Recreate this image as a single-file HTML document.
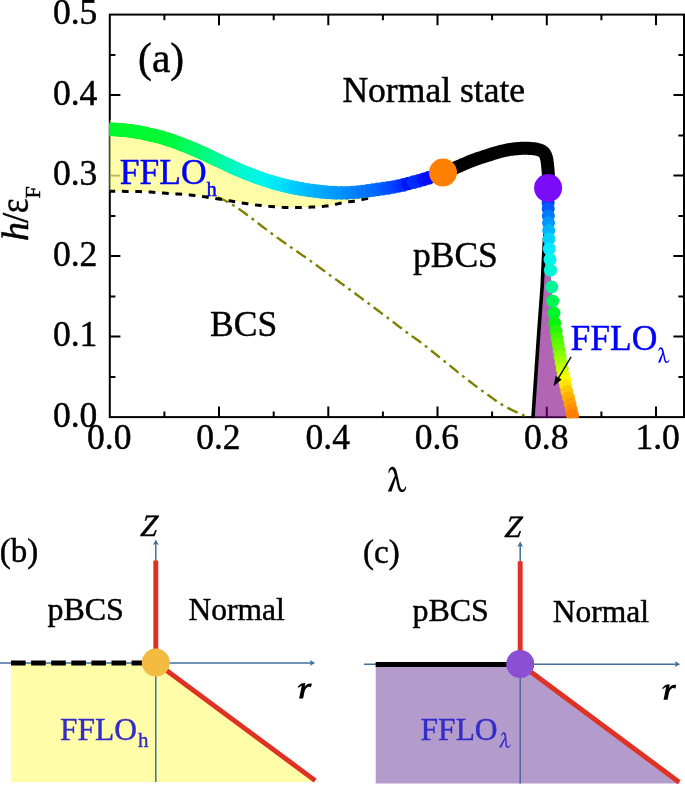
<!DOCTYPE html>
<html><head><meta charset="utf-8"><title>Phase diagram</title>
<style>html,body{margin:0;padding:0;background:#fff;}body{width:685px;height:786px;overflow:hidden;font-family:"Liberation Serif",serif;}</style></head>
<body>
<svg width="685" height="786" viewBox="0 0 685 786" style="display:block;will-change:transform">
<rect width="685" height="786" fill="#fff"/>
<defs><clipPath id="pc"><rect x="109.7" y="13.6" width="575.3" height="404.6"/></clipPath>
</defs>
<g stroke="#000" stroke-width="2" fill="none">
<rect x="109.8" y="14.6" width="574.2" height="402.5"/>
<path d="M164.4,417.1 v-5.6 M164.4,14.6 v5.6"/>
<path d="M219.0,417.1 v-10.6 M219.0,14.6 v10.6"/>
<path d="M273.7,417.1 v-5.6 M273.7,14.6 v5.6"/>
<path d="M328.3,417.1 v-10.6 M328.3,14.6 v10.6"/>
<path d="M382.9,417.1 v-5.6 M382.9,14.6 v5.6"/>
<path d="M437.5,417.1 v-10.6 M437.5,14.6 v10.6"/>
<path d="M492.1,417.1 v-5.6 M492.1,14.6 v5.6"/>
<path d="M546.8,417.1 v-10.6 M546.8,14.6 v10.6"/>
<path d="M601.4,417.1 v-5.6 M601.4,14.6 v5.6"/>
<path d="M656.0,417.1 v-10.6 M656.0,14.6 v10.6"/>
<path d="M109.8,376.9 h5.6 M684.0,376.9 h-5.6"/>
<path d="M109.8,336.6 h10.6 M684.0,336.6 h-10.6"/>
<path d="M109.8,296.4 h5.6 M684.0,296.4 h-5.6"/>
<path d="M109.8,256.1 h10.6 M684.0,256.1 h-10.6"/>
<path d="M109.8,215.9 h5.6 M684.0,215.9 h-5.6"/>
<path d="M109.8,175.6 h10.6 M684.0,175.6 h-10.6"/>
<path d="M109.8,135.4 h5.6 M684.0,135.4 h-5.6"/>
<path d="M109.8,95.1 h10.6 M684.0,95.1 h-10.6"/>
<path d="M109.8,54.9 h5.6 M684.0,54.9 h-5.6"/>
</g>
<g clip-path="url(#pc)">
<path d="M109.2,129.2 L108.2,129.2 L109.3,129.2 L110.3,129.3 L111.4,129.4 L112.5,129.4 L113.7,129.5 L114.9,129.5 L116.1,129.6 L117.4,129.7 L118.6,129.8 L119.9,129.9 L121.2,130.0 L122.5,130.1 L123.8,130.2 L125.0,130.3 L126.3,130.4 L127.6,130.6 L128.9,130.8 L130.2,130.9 L131.6,131.1 L132.9,131.3 L134.2,131.5 L135.5,131.7 L136.7,131.9 L137.9,132.1 L139.0,132.2 L140.0,132.4 L140.9,132.6 L141.6,132.7 L142.3,132.8 L142.8,132.9 L143.3,133.0 L143.8,133.1 L144.3,133.3 L144.8,133.4 L145.4,133.6 L146.2,133.7 L147.0,134.0 L148.0,134.2 L149.1,134.5 L150.4,134.7 L151.7,135.0 L153.0,135.3 L154.5,135.6 L156.0,136.0 L157.6,136.4 L159.2,136.8 L160.9,137.2 L162.7,137.7 L164.5,138.2 L166.3,138.8 L168.2,139.4 L170.2,140.1 L172.3,140.9 L174.5,141.6 L176.7,142.4 L179.0,143.3 L181.2,144.2 L183.5,145.0 L185.8,145.9 L188.1,146.9 L190.4,147.8 L192.6,148.7 L194.8,149.6 L197.0,150.6 L199.3,151.6 L201.5,152.6 L203.8,153.7 L206.0,154.7 L208.2,155.8 L210.4,156.8 L212.6,157.9 L214.7,158.9 L216.8,159.9 L218.9,160.8 L220.9,161.7 L222.8,162.6 L224.7,163.5 L226.5,164.4 L228.3,165.2 L230.1,166.0 L231.9,166.9 L233.7,167.7 L235.5,168.5 L237.4,169.3 L239.3,170.2 L241.3,171.0 L243.4,171.8 L245.5,172.7 L247.6,173.5 L249.8,174.4 L252.0,175.3 L254.2,176.1 L256.5,176.9 L258.7,177.8 L260.9,178.6 L263.2,179.3 L265.4,180.1 L267.6,180.8 L269.8,181.5 L272.0,182.1 L274.2,182.8 L276.3,183.4 L278.5,184.0 L280.7,184.6 L282.9,185.1 L285.1,185.7 L287.2,186.2 L289.4,186.7 L291.6,187.1 L293.8,187.6 L296.0,188.0 L298.2,188.5 L300.5,188.9 L302.7,189.2 L304.9,189.6 L307.2,189.9 L309.4,190.3 L311.6,190.6 L313.8,190.9 L315.9,191.1 L318.0,191.4 L320.1,191.6 L322.1,191.8 L324.1,192.0 L326.1,192.2 L328.0,192.3 L330.0,192.5 L331.9,192.6 L333.7,192.7 L335.5,192.7 L337.3,192.8 L339.1,192.9 L340.8,192.9 L342.5,192.9 L344.1,192.9 L345.7,192.9 L347.2,192.8 L348.7,192.8 L350.1,192.7 L351.6,192.6 L352.9,192.5 L354.3,192.4 L355.7,192.2 L357.1,192.1 L358.6,191.9 L360.0,191.8 L361.5,191.6 L362.9,191.5 L364.4,191.3 L365.9,191.1 L367.3,190.9 L368.8,190.7 L370.3,190.5 L371.7,190.3 L371.3,197.8 L369.8,198.1 L368.3,198.3 L367.0,198.6 L365.7,198.9 L364.5,199.1 L363.3,199.4 L362.1,199.6 L360.9,199.9 L359.6,200.1 L358.4,200.3 L357.2,200.6 L356.0,200.8 L354.8,201.0 L353.6,201.2 L352.4,201.4 L351.2,201.5 L349.9,201.7 L348.7,201.8 L347.5,202.0 L346.3,202.1 L345.0,202.3 L343.8,202.5 L342.5,202.7 L341.2,203.0 L339.9,203.2 L338.6,203.6 L337.3,203.9 L336.0,204.2 L334.7,204.6 L333.3,204.9 L331.9,205.2 L330.4,205.5 L328.9,205.7 L327.3,205.9 L325.8,206.1 L324.2,206.3 L322.6,206.4 L320.9,206.6 L319.2,206.7 L317.4,206.8 L315.5,206.9 L313.5,207.0 L311.4,207.1 L309.1,207.2 L306.7,207.3 L304.1,207.3 L301.5,207.4 L298.7,207.5 L296.0,207.5 L293.2,207.5 L290.4,207.5 L287.7,207.5 L285.0,207.4 L282.3,207.3 L279.6,207.1 L276.9,207.0 L274.2,206.8 L271.4,206.5 L268.7,206.3 L266.1,206.0 L263.6,205.8 L261.1,205.5 L258.8,205.3 L256.6,205.1 L254.6,204.8 L252.8,204.6 L251.0,204.3 L249.2,204.1 L247.5,203.8 L245.7,203.5 L243.9,203.2 L242.0,202.9 L240.0,202.6 L237.9,202.3 L235.7,201.9 L233.4,201.5 L231.1,201.1 L228.8,200.7 L226.4,200.3 L224.0,199.9 L221.6,199.5 L219.2,199.1 L216.8,198.7 L214.4,198.3 L212.0,198.0 L209.5,197.6 L207.1,197.2 L204.6,196.8 L202.1,196.5 L199.6,196.1 L197.1,195.8 L194.5,195.5 L192.0,195.2 L189.4,194.9 L186.9,194.7 L184.3,194.5 L181.7,194.3 L179.1,194.1 L176.5,193.9 L173.8,193.7 L171.2,193.6 L168.6,193.4 L166.0,193.2 L163.4,193.0 L160.9,192.8 L158.4,192.6 L155.9,192.5 L153.3,192.3 L150.8,192.1 L148.2,192.0 L145.6,191.8 L142.8,191.7 L140.0,191.6 L136.9,191.5 L133.5,191.5 L130.0,191.4 L126.3,191.4 L122.6,191.3 L119.1,191.3 L115.8,191.3 L112.9,191.3 L110.4,191.3 L108.5,191.3 L109.2,191.3Z" fill="#fffda8"/>
<path d="M110.3,120 V192" stroke="#a8a660" stroke-width="1.2" fill="none"/>
<path d="M110.2,175.6 H120.3" stroke="#b6b45e" stroke-width="1.6" fill="none"/>
<path d="M217.7,197.1 L218.5,197.5 L219.6,198.0 L220.9,198.6 L222.3,199.3 L223.9,200.0 L225.5,200.8 L227.2,201.7 L228.9,202.6 L230.5,203.5 L232.1,204.4 L233.6,205.4 L235.2,206.4 L236.8,207.5 L238.4,208.6 L240.1,209.7 L241.7,210.9 L243.3,212.1 L245.0,213.3 L246.6,214.5 L248.2,215.7 L249.8,216.9 L251.4,218.1 L253.0,219.3 L254.6,220.5 L256.2,221.8 L257.8,223.0 L259.4,224.2 L261.0,225.5 L262.6,226.7 L264.2,227.9 L265.8,229.1 L267.4,230.3 L269.0,231.5 L270.6,232.7 L272.3,233.9 L273.9,235.1 L275.5,236.3 L277.1,237.5 L278.7,238.6 L280.3,239.8 L281.9,240.9 L283.5,242.1 L285.1,243.2 L286.7,244.3 L288.3,245.4 L289.9,246.5 L291.5,247.7 L293.1,248.8 L294.7,249.9 L296.3,251.0 L297.9,252.1 L299.5,253.2 L301.1,254.4 L302.7,255.5 L304.3,256.6 L306.0,257.7 L307.6,258.9 L309.2,260.0 L310.8,261.1 L312.4,262.3 L314.0,263.5 L315.6,264.6 L317.2,265.8 L318.8,267.0 L320.5,268.2 L322.1,269.4 L323.7,270.6 L325.3,271.7 L326.9,272.9 L328.5,274.1 L330.1,275.3 L331.7,276.4 L333.3,277.6 L334.9,278.7 L336.5,279.9 L338.1,281.0 L339.7,282.2 L341.3,283.4 L342.9,284.5 L344.5,285.7 L346.1,286.9 L347.7,288.1 L349.3,289.2 L350.9,290.4 L352.6,291.6 L354.2,292.8 L355.8,294.0 L357.4,295.2 L359.0,296.4 L360.6,297.6 L362.2,298.8 L363.8,300.0 L365.4,301.2 L367.0,302.3 L368.6,303.5 L370.2,304.7 L371.8,305.9 L373.4,307.1 L375.0,308.3 L376.6,309.5 L378.2,310.7 L379.8,311.9 L381.4,313.1 L383.0,314.4 L384.7,315.6 L386.3,316.8 L387.9,318.0 L389.5,319.3 L391.1,320.5 L392.7,321.7 L394.3,322.9 L396.0,324.2 L397.6,325.5 L399.3,326.8 L401.0,328.0 L402.6,329.3 L404.2,330.5 L405.8,331.7 L407.3,332.8 L408.7,333.9 L410.0,334.8 L411.2,335.7 L412.2,336.4 L413.3,337.1 L414.3,337.7 L415.3,338.4 L416.4,339.2 L417.6,340.0 L418.9,341.0 L420.4,342.1 L422.1,343.4 L423.9,344.8 L425.9,346.4 L428.0,348.0 L430.1,349.7 L432.3,351.5 L434.5,353.2 L436.7,355.0 L438.8,356.7 L440.9,358.4 L442.9,360.0 L445.0,361.7 L447.0,363.3 L449.1,365.0 L451.1,366.6 L453.1,368.3 L455.2,369.9 L457.2,371.6 L459.3,373.2 L461.3,374.8 L463.3,376.4 L465.4,378.0 L467.4,379.6 L469.5,381.2 L471.5,382.8 L473.5,384.4 L475.6,385.9 L477.6,387.5 L479.7,389.0 L481.7,390.5 L483.8,392.0 L485.9,393.5 L488.0,395.1 L490.1,396.6 L492.2,398.1 L494.3,399.6 L496.4,401.0 L498.4,402.4 L500.3,403.6 L502.2,404.8 L504.0,405.9 L505.9,406.9 L507.6,407.9 L509.4,408.7 L511.1,409.6 L512.7,410.4 L514.3,411.1 L515.8,411.8 L517.2,412.4 L518.5,413.0 L519.7,413.6 L520.8,414.1 L521.9,414.5 L522.9,414.9 L523.8,415.3 L524.6,415.6 L525.3,415.9 L526.0,416.1 L526.5,416.3 L527.0,416.5" stroke="#808000" stroke-width="2.4" fill="none" stroke-dasharray="11.5 4.8 2.8 4.8"/>
<path d="M108.5,191.3 L110.4,191.3 L112.9,191.3 L115.8,191.3 L119.1,191.3 L122.6,191.3 L126.3,191.4 L130.0,191.4 L133.5,191.5 L136.9,191.5 L140.0,191.6 L142.8,191.7 L145.6,191.8 L148.2,192.0 L150.8,192.1 L153.3,192.3 L155.9,192.5 L158.4,192.6 L160.9,192.8 L163.4,193.0 L166.0,193.2 L168.6,193.4 L171.2,193.6 L173.8,193.7 L176.5,193.9 L179.1,194.1 L181.7,194.3 L184.3,194.5 L186.9,194.7 L189.4,194.9 L192.0,195.2 L194.5,195.5 L197.1,195.8 L199.6,196.1 L202.1,196.5 L204.6,196.8 L207.1,197.2 L209.5,197.6 L212.0,198.0 L214.4,198.3 L216.8,198.7 L219.2,199.1 L221.6,199.5 L224.0,199.9 L226.4,200.3 L228.8,200.7 L231.1,201.1 L233.4,201.5 L235.7,201.9 L237.9,202.3 L240.0,202.6 L242.0,202.9 L243.9,203.2 L245.7,203.5 L247.5,203.8 L249.2,204.1 L251.0,204.3 L252.8,204.6 L254.6,204.8 L256.6,205.1 L258.8,205.3 L261.1,205.5 L263.6,205.8 L266.1,206.0 L268.7,206.3 L271.4,206.5 L274.2,206.8 L276.9,207.0 L279.6,207.1 L282.3,207.3 L285.0,207.4 L287.7,207.5 L290.4,207.5 L293.2,207.5 L296.0,207.5 L298.7,207.5 L301.5,207.4 L304.1,207.3 L306.7,207.3 L309.1,207.2 L311.4,207.1 L313.5,207.0 L315.5,206.9 L317.4,206.8 L319.2,206.7 L320.9,206.6 L322.6,206.4 L324.2,206.3 L325.8,206.1 L327.3,205.9 L328.9,205.7 L330.4,205.5 L331.9,205.2 L333.3,204.9 L334.7,204.6 L336.0,204.2 L337.3,203.9 L338.6,203.6 L339.9,203.2 L341.2,203.0 L342.5,202.7 L343.8,202.5 L345.0,202.3 L346.3,202.1 L347.5,202.0 L348.7,201.8 L349.9,201.7 L351.2,201.5 L352.4,201.4 L353.6,201.2 L354.8,201.0 L356.0,200.8 L357.2,200.6 L358.4,200.3 L359.6,200.1 L360.9,199.9 L362.1,199.6 L363.3,199.4 L364.5,199.1 L365.7,198.9 L367.0,198.6 L368.3,198.3 L369.8,198.1" stroke="#000" stroke-width="3" fill="none" stroke-dasharray="6.7 6.7"/>
<path d="M532.9,418.0 L538.8,331.6 L542.2,285.8 L543.7,253.7 L548.0,190.0 L548.1,203.0 L548.2,209.1 L548.3,216.0 L548.5,222.8 L548.7,230.5 L548.9,238.9 L549.2,248.8 L550.0,259.5 L550.5,270.2 L551.7,287.0 L552.7,301.0 L554.0,313.0 L554.7,322.9 L556.1,331.3 L557.0,338.2 L558.1,344.3 L559.2,350.4 L560.1,356.5 L561.1,362.6 L562.2,368.7 L563.4,374.8 L564.7,380.2 L565.7,385.5 L566.9,391.6 L568.6,397.7 L570.0,403.8 L571.4,409.9 L572.6,415.6 L573.0,418.0Z" fill="#b265b5"/>
<path d="M546.8,417.2 v-10.5" stroke="#4d0052" stroke-width="2"/>
<path d="M533.8,417.2 H571" stroke="#3c0040" stroke-width="2"/>
<path d="M532.9,418.5 L538.8,331.6 L542.2,285.8 L543.7,253.7 L546,215 L548,190" stroke="#000" stroke-width="3.6" fill="none" stroke-linejoin="round"/>
<circle cx="100.0" cy="129.0" r="6.85" fill="rgb(0,249,44)"/>
<circle cx="101.6" cy="129.0" r="6.85" fill="rgb(0,249,44)"/>
<circle cx="103.2" cy="129.1" r="6.85" fill="rgb(0,249,44)"/>
<circle cx="104.8" cy="129.1" r="6.85" fill="rgb(0,249,44)"/>
<circle cx="106.4" cy="129.1" r="6.85" fill="rgb(0,249,44)"/>
<circle cx="108.0" cy="129.2" r="6.85" fill="rgb(0,249,44)"/>
<circle cx="109.6" cy="129.3" r="6.85" fill="rgb(0,249,44)"/>
<circle cx="111.2" cy="129.3" r="6.85" fill="rgb(0,249,44)"/>
<circle cx="112.8" cy="129.4" r="6.85" fill="rgb(0,249,44)"/>
<circle cx="114.4" cy="129.5" r="6.85" fill="rgb(0,249,45)"/>
<circle cx="116.0" cy="129.6" r="6.85" fill="rgb(0,249,45)"/>
<circle cx="117.6" cy="129.7" r="6.85" fill="rgb(0,249,45)"/>
<circle cx="119.2" cy="129.8" r="6.85" fill="rgb(0,249,45)"/>
<circle cx="120.8" cy="129.9" r="6.85" fill="rgb(0,249,45)"/>
<circle cx="122.4" cy="130.1" r="6.85" fill="rgb(0,249,46)"/>
<circle cx="124.0" cy="130.2" r="6.85" fill="rgb(0,249,46)"/>
<circle cx="125.6" cy="130.4" r="6.85" fill="rgb(0,249,46)"/>
<circle cx="127.1" cy="130.5" r="6.85" fill="rgb(0,249,46)"/>
<circle cx="128.7" cy="130.7" r="6.85" fill="rgb(0,249,46)"/>
<circle cx="130.3" cy="130.9" r="6.85" fill="rgb(0,249,47)"/>
<circle cx="131.9" cy="131.2" r="6.85" fill="rgb(0,249,47)"/>
<circle cx="133.5" cy="131.4" r="6.85" fill="rgb(0,249,47)"/>
<circle cx="135.1" cy="131.6" r="6.85" fill="rgb(0,249,47)"/>
<circle cx="136.7" cy="131.9" r="6.85" fill="rgb(0,249,48)"/>
<circle cx="138.2" cy="132.1" r="6.85" fill="rgb(0,249,48)"/>
<circle cx="139.8" cy="132.4" r="6.85" fill="rgb(0,249,48)"/>
<circle cx="141.4" cy="132.6" r="6.85" fill="rgb(0,249,48)"/>
<circle cx="143.0" cy="133.0" r="6.85" fill="rgb(0,249,48)"/>
<circle cx="144.5" cy="133.3" r="6.85" fill="rgb(0,249,49)"/>
<circle cx="146.1" cy="133.7" r="6.85" fill="rgb(0,249,49)"/>
<circle cx="147.6" cy="134.1" r="6.85" fill="rgb(0,249,49)"/>
<circle cx="149.2" cy="134.5" r="6.85" fill="rgb(0,249,49)"/>
<circle cx="150.7" cy="134.8" r="6.85" fill="rgb(0,249,49)"/>
<circle cx="152.3" cy="135.2" r="6.85" fill="rgb(0,249,50)"/>
<circle cx="153.9" cy="135.5" r="6.85" fill="rgb(0,249,50)"/>
<circle cx="155.4" cy="135.9" r="6.85" fill="rgb(0,249,50)"/>
<circle cx="157.0" cy="136.2" r="6.85" fill="rgb(0,249,50)"/>
<circle cx="158.5" cy="136.6" r="6.85" fill="rgb(0,249,50)"/>
<circle cx="160.1" cy="137.0" r="6.85" fill="rgb(0,249,51)"/>
<circle cx="161.6" cy="137.4" r="6.85" fill="rgb(0,249,51)"/>
<circle cx="163.2" cy="137.8" r="6.85" fill="rgb(0,249,51)"/>
<circle cx="164.7" cy="138.3" r="6.85" fill="rgb(0,249,51)"/>
<circle cx="166.2" cy="138.8" r="6.85" fill="rgb(0,249,51)"/>
<circle cx="167.8" cy="139.3" r="6.85" fill="rgb(0,249,52)"/>
<circle cx="169.3" cy="139.8" r="6.85" fill="rgb(0,249,52)"/>
<circle cx="170.8" cy="140.3" r="6.85" fill="rgb(0,249,54)"/>
<circle cx="172.3" cy="140.8" r="6.85" fill="rgb(0,249,56)"/>
<circle cx="173.8" cy="141.4" r="6.85" fill="rgb(0,249,59)"/>
<circle cx="175.3" cy="141.9" r="6.85" fill="rgb(0,249,62)"/>
<circle cx="176.8" cy="142.5" r="6.85" fill="rgb(0,249,65)"/>
<circle cx="178.3" cy="143.0" r="6.85" fill="rgb(0,249,68)"/>
<circle cx="179.8" cy="143.6" r="6.85" fill="rgb(0,249,71)"/>
<circle cx="181.3" cy="144.2" r="6.85" fill="rgb(0,249,74)"/>
<circle cx="182.8" cy="144.8" r="6.85" fill="rgb(0,249,77)"/>
<circle cx="184.3" cy="145.3" r="6.85" fill="rgb(0,249,80)"/>
<circle cx="185.8" cy="145.9" r="6.85" fill="rgb(0,250,82)"/>
<circle cx="187.3" cy="146.5" r="6.85" fill="rgb(0,250,85)"/>
<circle cx="188.7" cy="147.1" r="6.85" fill="rgb(0,250,88)"/>
<circle cx="190.2" cy="147.7" r="6.85" fill="rgb(0,250,91)"/>
<circle cx="191.7" cy="148.3" r="6.85" fill="rgb(0,250,94)"/>
<circle cx="193.2" cy="148.9" r="6.85" fill="rgb(0,250,97)"/>
<circle cx="194.6" cy="149.6" r="6.85" fill="rgb(0,250,100)"/>
<circle cx="196.1" cy="150.2" r="6.85" fill="rgb(0,250,102)"/>
<circle cx="197.6" cy="150.9" r="6.85" fill="rgb(0,250,105)"/>
<circle cx="199.0" cy="151.5" r="6.85" fill="rgb(0,250,108)"/>
<circle cx="200.5" cy="152.2" r="6.85" fill="rgb(0,250,111)"/>
<circle cx="201.9" cy="152.8" r="6.85" fill="rgb(0,250,114)"/>
<circle cx="203.4" cy="153.5" r="6.85" fill="rgb(0,250,117)"/>
<circle cx="204.8" cy="154.2" r="6.85" fill="rgb(0,250,120)"/>
<circle cx="206.3" cy="154.9" r="6.85" fill="rgb(0,251,123)"/>
<circle cx="207.7" cy="155.6" r="6.85" fill="rgb(0,251,125)"/>
<circle cx="209.2" cy="156.2" r="6.85" fill="rgb(0,251,128)"/>
<circle cx="210.6" cy="156.9" r="6.85" fill="rgb(0,251,131)"/>
<circle cx="212.1" cy="157.6" r="6.85" fill="rgb(0,251,134)"/>
<circle cx="213.5" cy="158.3" r="6.85" fill="rgb(0,251,137)"/>
<circle cx="215.0" cy="159.0" r="6.85" fill="rgb(0,251,140)"/>
<circle cx="216.4" cy="159.7" r="6.85" fill="rgb(0,252,143)"/>
<circle cx="217.9" cy="160.3" r="6.85" fill="rgb(0,252,146)"/>
<circle cx="219.3" cy="161.0" r="6.85" fill="rgb(0,252,149)"/>
<circle cx="220.8" cy="161.7" r="6.85" fill="rgb(0,252,152)"/>
<circle cx="222.2" cy="162.3" r="6.85" fill="rgb(0,252,155)"/>
<circle cx="223.7" cy="163.0" r="6.85" fill="rgb(0,252,159)"/>
<circle cx="225.1" cy="163.7" r="6.85" fill="rgb(0,252,162)"/>
<circle cx="226.6" cy="164.4" r="6.85" fill="rgb(0,251,166)"/>
<circle cx="228.0" cy="165.1" r="6.85" fill="rgb(0,251,169)"/>
<circle cx="229.5" cy="165.7" r="6.85" fill="rgb(0,251,173)"/>
<circle cx="230.9" cy="166.4" r="6.85" fill="rgb(0,251,176)"/>
<circle cx="232.4" cy="167.1" r="6.85" fill="rgb(0,251,179)"/>
<circle cx="233.8" cy="167.8" r="6.85" fill="rgb(0,251,183)"/>
<circle cx="235.3" cy="168.4" r="6.85" fill="rgb(0,251,186)"/>
<circle cx="236.7" cy="169.1" r="6.85" fill="rgb(0,250,190)"/>
<circle cx="238.2" cy="169.7" r="6.85" fill="rgb(0,250,193)"/>
<circle cx="239.7" cy="170.3" r="6.85" fill="rgb(0,250,197)"/>
<circle cx="241.2" cy="170.9" r="6.85" fill="rgb(0,250,200)"/>
<circle cx="242.6" cy="171.5" r="6.85" fill="rgb(0,250,202)"/>
<circle cx="244.1" cy="172.2" r="6.85" fill="rgb(0,249,204)"/>
<circle cx="245.6" cy="172.8" r="6.85" fill="rgb(0,249,206)"/>
<circle cx="247.1" cy="173.3" r="6.85" fill="rgb(0,249,209)"/>
<circle cx="248.6" cy="173.9" r="6.85" fill="rgb(0,249,211)"/>
<circle cx="250.1" cy="174.5" r="6.85" fill="rgb(0,248,213)"/>
<circle cx="251.6" cy="175.1" r="6.85" fill="rgb(0,248,215)"/>
<circle cx="253.1" cy="175.7" r="6.85" fill="rgb(0,248,217)"/>
<circle cx="254.6" cy="176.2" r="6.85" fill="rgb(0,247,219)"/>
<circle cx="256.1" cy="176.8" r="6.85" fill="rgb(0,247,221)"/>
<circle cx="257.6" cy="177.4" r="6.85" fill="rgb(0,247,223)"/>
<circle cx="259.1" cy="177.9" r="6.85" fill="rgb(0,247,225)"/>
<circle cx="260.6" cy="178.4" r="6.85" fill="rgb(0,246,228)"/>
<circle cx="262.1" cy="179.0" r="6.85" fill="rgb(0,246,230)"/>
<circle cx="263.6" cy="179.5" r="6.85" fill="rgb(0,246,232)"/>
<circle cx="265.1" cy="180.0" r="6.85" fill="rgb(0,246,234)"/>
<circle cx="266.6" cy="180.5" r="6.85" fill="rgb(0,245,236)"/>
<circle cx="268.2" cy="181.0" r="6.85" fill="rgb(0,245,238)"/>
<circle cx="269.7" cy="181.4" r="6.85" fill="rgb(0,243,239)"/>
<circle cx="271.2" cy="181.9" r="6.85" fill="rgb(0,241,240)"/>
<circle cx="272.7" cy="182.4" r="6.85" fill="rgb(0,239,241)"/>
<circle cx="274.3" cy="182.8" r="6.85" fill="rgb(0,238,242)"/>
<circle cx="275.8" cy="183.2" r="6.85" fill="rgb(0,236,243)"/>
<circle cx="277.4" cy="183.7" r="6.85" fill="rgb(0,234,244)"/>
<circle cx="278.9" cy="184.1" r="6.85" fill="rgb(0,232,244)"/>
<circle cx="280.5" cy="184.5" r="6.85" fill="rgb(0,230,245)"/>
<circle cx="282.0" cy="184.9" r="6.85" fill="rgb(0,229,246)"/>
<circle cx="283.6" cy="185.3" r="6.85" fill="rgb(0,227,247)"/>
<circle cx="285.1" cy="185.7" r="6.85" fill="rgb(0,225,248)"/>
<circle cx="286.7" cy="186.0" r="6.85" fill="rgb(0,222,248)"/>
<circle cx="288.2" cy="186.4" r="6.85" fill="rgb(0,220,249)"/>
<circle cx="289.8" cy="186.7" r="6.85" fill="rgb(0,217,249)"/>
<circle cx="291.4" cy="187.1" r="6.85" fill="rgb(0,214,250)"/>
<circle cx="292.9" cy="187.4" r="6.85" fill="rgb(0,212,250)"/>
<circle cx="294.5" cy="187.7" r="6.85" fill="rgb(0,209,251)"/>
<circle cx="296.1" cy="188.1" r="6.85" fill="rgb(0,207,251)"/>
<circle cx="297.6" cy="188.3" r="6.85" fill="rgb(0,204,251)"/>
<circle cx="299.2" cy="188.6" r="6.85" fill="rgb(0,201,252)"/>
<circle cx="300.8" cy="188.9" r="6.85" fill="rgb(0,199,252)"/>
<circle cx="303.7" cy="189.4" r="6.85" fill="rgb(0,195,253)"/>
<circle cx="306.7" cy="189.9" r="6.85" fill="rgb(0,192,253)"/>
<circle cx="309.7" cy="190.3" r="6.85" fill="rgb(0,188,253)"/>
<circle cx="312.6" cy="190.7" r="6.85" fill="rgb(0,184,254)"/>
<circle cx="315.6" cy="191.1" r="6.85" fill="rgb(0,180,254)"/>
<circle cx="318.6" cy="191.4" r="6.85" fill="rgb(0,177,255)"/>
<circle cx="321.6" cy="191.8" r="6.85" fill="rgb(0,173,255)"/>
<circle cx="324.6" cy="192.0" r="6.85" fill="rgb(0,170,255)"/>
<circle cx="327.6" cy="192.3" r="6.85" fill="rgb(0,166,255)"/>
<circle cx="330.5" cy="192.5" r="6.85" fill="rgb(0,163,255)"/>
<circle cx="333.5" cy="192.7" r="6.85" fill="rgb(0,159,255)"/>
<circle cx="336.5" cy="192.8" r="6.85" fill="rgb(0,156,255)"/>
<circle cx="341.7" cy="192.9" r="6.85" fill="rgb(0,150,255)"/>
<circle cx="346.9" cy="192.8" r="6.85" fill="rgb(0,143,255)"/>
<circle cx="352.1" cy="192.5" r="6.85" fill="rgb(0,136,255)"/>
<circle cx="357.3" cy="192.1" r="6.85" fill="rgb(0,129,255)"/>
<circle cx="362.5" cy="191.5" r="6.85" fill="rgb(0,122,255)"/>
<circle cx="367.6" cy="190.9" r="6.85" fill="rgb(0,116,255)"/>
<circle cx="372.8" cy="190.1" r="6.85" fill="rgb(0,110,255)"/>
<circle cx="377.9" cy="189.4" r="6.85" fill="rgb(0,103,255)"/>
<circle cx="383.1" cy="188.6" r="6.85" fill="rgb(0,93,255)"/>
<circle cx="388.2" cy="187.9" r="6.85" fill="rgb(0,82,255)"/>
<circle cx="393.4" cy="187.0" r="6.85" fill="rgb(0,71,255)"/>
<circle cx="398.4" cy="186.0" r="6.85" fill="rgb(0,57,255)"/>
<circle cx="403.5" cy="184.8" r="6.85" fill="rgb(0,42,255)"/>
<circle cx="408.5" cy="183.5" r="6.85" fill="rgb(0,21,255)"/>
<circle cx="413.6" cy="182.1" r="6.85" fill="rgb(0,47,255)"/>
<circle cx="418.6" cy="180.8" r="6.85" fill="rgb(0,42,255)"/>
<circle cx="423.6" cy="179.4" r="6.85" fill="rgb(0,22,255)"/>
<circle cx="428.6" cy="177.8" r="6.85" fill="rgb(0,9,255)"/>
<circle cx="433.5" cy="176.1" r="6.85" fill="rgb(0,6,255)"/>
<circle cx="438.3" cy="174.3" r="6.85" fill="rgb(0,4,255)"/>
<path d="M443.0,172.6 L443.7,172.3 L444.5,172.0 L445.5,171.6 L446.6,171.2 L447.8,170.7 L449.2,170.2 L450.6,169.6 L452.1,169.0 L453.7,168.4 L455.3,167.7 L457.0,167.0 L458.9,166.2 L460.8,165.4 L462.8,164.5 L464.9,163.6 L467.1,162.7 L469.3,161.8 L471.6,160.8 L473.9,160.0 L476.3,159.1 L478.8,158.2 L481.4,157.4 L484.1,156.5 L486.9,155.6 L489.7,154.7 L492.5,153.8 L495.2,153.0 L497.8,152.3 L500.3,151.6 L502.6,151.0 L504.7,150.5 L506.7,150.1 L508.6,149.7 L510.4,149.4 L512.2,149.2 L513.8,149.0 L515.4,148.8 L517.0,148.7 L518.5,148.5 L520.0,148.4 L521.5,148.3 L522.9,148.2 L524.2,148.2 L525.6,148.2 L526.8,148.3 L528.0,148.3 L529.2,148.4 L530.3,148.5 L531.3,148.5 L532.3,148.6 L533.2,148.7 L534.0,148.8 L534.8,148.8 L535.5,148.9 L536.1,149.1 L536.7,149.2 L537.3,149.3 L537.9,149.5 L538.4,149.6 L539.0,149.8 L539.6,150.0 L540.1,150.2 L540.6,150.4 L541.1,150.6 L541.6,150.9 L542.1,151.1 L542.5,151.4 L542.9,151.7 L543.3,152.1 L543.7,152.4 L544.0,152.8 L544.4,153.2 L544.7,153.6 L544.9,154.0 L545.2,154.4 L545.4,154.9 L545.6,155.4 L545.8,155.9 L546.0,156.4 L546.2,157.0 L546.4,157.6 L546.5,158.2 L546.7,158.8 L546.8,159.4 L546.9,160.0 L547.0,160.7 L547.1,161.4 L547.2,162.2 L547.3,163.0 L547.4,163.8 L547.5,164.7 L547.6,165.6 L547.7,166.6 L547.8,167.6 L547.9,168.6 L548.0,169.7 L548.1,170.8 L548.2,171.9 L548.3,173.1 L548.3,174.3 L548.3,175.6 L548.3,177.1 L548.3,178.6 L548.3,180.2 L548.3,181.8 L548.2,183.4 L548.2,184.8 L548.1,186.1 L548.1,187.2 L548.1,188.0" stroke="#000" stroke-width="13" fill="none" stroke-linejoin="round"/>
<circle cx="548.1" cy="203.0" r="6.5" fill="rgb(0,70,255)"/>
<circle cx="548.2" cy="209.1" r="6.5" fill="rgb(0,90,255)"/>
<circle cx="548.3" cy="216.0" r="6.5" fill="rgb(0,120,255)"/>
<circle cx="548.5" cy="222.8" r="6.5" fill="rgb(0,150,255)"/>
<circle cx="548.7" cy="230.5" r="6.5" fill="rgb(0,180,255)"/>
<circle cx="548.9" cy="238.9" r="6.5" fill="rgb(0,210,255)"/>
<circle cx="549.2" cy="248.8" r="6.5" fill="rgb(0,235,255)"/>
<circle cx="550.0" cy="259.5" r="6.5" fill="rgb(0,245,232)"/>
<circle cx="550.5" cy="270.2" r="6.5" fill="rgb(0,245,212)"/>
<circle cx="551.7" cy="287.0" r="6.5" fill="rgb(0,245,150)"/>
<circle cx="552.7" cy="301.0" r="6.5" fill="rgb(0,246,80)"/>
<circle cx="554.0" cy="313.0" r="6.5" fill="rgb(0,246,44)"/>
<circle cx="554.7" cy="322.9" r="6.5" fill="rgb(10,244,16)"/>
<circle cx="556.1" cy="331.3" r="6.5" fill="rgb(40,246,10)"/>
<circle cx="557.0" cy="338.2" r="6.5" fill="rgb(66,248,6)"/>
<circle cx="558.1" cy="344.3" r="6.5" fill="rgb(90,250,0)"/>
<circle cx="559.2" cy="350.4" r="6.5" fill="rgb(110,250,0)"/>
<circle cx="560.1" cy="356.5" r="6.5" fill="rgb(135,255,0)"/>
<circle cx="561.1" cy="362.6" r="6.5" fill="rgb(160,255,0)"/>
<circle cx="562.2" cy="368.7" r="6.5" fill="rgb(190,255,0)"/>
<circle cx="563.4" cy="374.8" r="6.5" fill="rgb(220,255,0)"/>
<circle cx="564.7" cy="380.2" r="6.5" fill="rgb(245,255,0)"/>
<circle cx="565.7" cy="385.5" r="6.5" fill="rgb(255,230,0)"/>
<circle cx="566.9" cy="391.6" r="6.5" fill="rgb(255,200,0)"/>
<circle cx="568.6" cy="397.7" r="6.5" fill="rgb(255,178,0)"/>
<circle cx="570.0" cy="403.8" r="6.5" fill="rgb(255,160,0)"/>
<circle cx="571.4" cy="409.9" r="6.5" fill="rgb(255,142,0)"/>
<circle cx="572.6" cy="415.6" r="6.5" fill="rgb(255,128,0)"/>
<circle cx="443" cy="172.6" r="14" fill="#ff8000"/>
<circle cx="548.1" cy="188" r="14" fill="#7a0cfa"/>
<path d="M571.1,356.8 L557,380.4" stroke="#000" stroke-width="1.3"/>
<path d="M553.5,386.3 L555.6,375.9 L561.7,379.5Z" fill="#000"/>
</g>
<g font-family="'Liberation Serif', serif" fill="#000" stroke="#000" stroke-width="0.45">
<text x="97.3" y="426.8" font-size="35.5" text-anchor="end">0.0</text>
<text x="97.3" y="346.3" font-size="35.5" text-anchor="end">0.1</text>
<text x="97.3" y="265.8" font-size="35.5" text-anchor="end">0.2</text>
<text x="97.3" y="185.3" font-size="35.5" text-anchor="end">0.3</text>
<text x="97.3" y="104.8" font-size="35.5" text-anchor="end">0.4</text>
<text x="97.3" y="24.3" font-size="35.5" text-anchor="end">0.5</text>
<text x="109.2" y="448.5" font-size="35.5" text-anchor="middle">0.0</text>
<text x="218.4" y="448.5" font-size="35.5" text-anchor="middle">0.2</text>
<text x="327.7" y="448.5" font-size="35.5" text-anchor="middle">0.4</text>
<text x="436.9" y="448.5" font-size="35.5" text-anchor="middle">0.6</text>
<text x="546.2" y="448.5" font-size="35.5" text-anchor="middle">0.8</text>
<text x="657.6" y="448.5" font-size="35.5" text-anchor="middle">1.0</text>
<text x="138.1" y="72.4" font-size="41.5">(a)</text>
<text x="342.4" y="102.3" font-size="35.6">Normal state</text>
<text x="413" y="267.3" font-size="35.5">pBCS</text>
<text x="210.1" y="336.4" font-size="35.5">BCS</text>
<text x="119.8" y="183.7" font-size="35.5" fill="#0000ff" stroke="#0000ff">FFLO</text>
<text x="206.4" y="196" font-size="20.5" fill="#0000ff" stroke="#0000ff">h</text>
<text x="570.6" y="350.3" font-size="35.5" fill="#0000ff" stroke="#0000ff">FFLO</text>
<path transform="translate(658.00,363.00) scale(0.04078) translate(-193,-567)" d="M200,272 C206,222 228,184 262,183 C300,183 322,222 336,292 L374,468 C384,512 398,532 418,530 C442,527 455,505 460,480 L473,484 C470,530 446,567 408,567 C368,567 350,530 338,468 L316,352 L250,556 L193,556 L300,318 C290,262 275,222 252,222 C232,222 222,245 215,272 Z" fill="#0000ff"/>
<path transform="translate(387.80,492.10) scale(0.06571) translate(-193,-567)" d="M200,272 C206,222 228,184 262,183 C300,183 322,222 336,292 L374,468 C384,512 398,532 418,530 C442,527 455,505 460,480 L473,484 C470,530 446,567 408,567 C368,567 350,530 338,468 L316,352 L250,556 L193,556 L300,318 C290,262 275,222 252,222 C232,222 222,245 215,272 Z" fill="#000"/>
<g transform="translate(27.7,240.3) rotate(-90)"><text x="-0.7" y="0" font-size="38" font-style="italic">h</text><text x="17.4" y="0" font-size="37">/</text><text transform="translate(27,0) scale(0.86,1)" font-size="41">ε</text><text x="41.7" y="12" font-size="22">F</text></g>
<text x="-0.2" y="562.4" font-size="33">(b)</text>
<text transform="translate(139.9,536) skewX(-6)" font-size="31" font-style="italic" stroke="#000" stroke-width="0.5" textLength="16.6" lengthAdjust="spacingAndGlyphs">Z</text>
<text x="47.4" y="620.3" font-size="32">pBCS</text>
<text x="188.6" y="620.3" font-size="31.5">Normal</text>
<path transform="translate(285.00,645.00) scale(0.07634)" d="M165,548 L214,503 L266,497 L257,545 C285,510 320,495 352,507 L340,555 C320,540 295,545 275,570 C262,588 255,610 250,640 L237,700 L185,700 L220,530 L175,560 Z" fill="#000" stroke="none"/>
<text x="363" y="563.4" font-size="33">(c)</text>
<text transform="translate(504.3,537.3) skewX(-6)" font-size="31" font-style="italic" stroke="#000" stroke-width="0.5" textLength="16.6" lengthAdjust="spacingAndGlyphs">Z</text>
<text x="412.4" y="621.2" font-size="32">pBCS</text>
<text x="552.8" y="621.7" font-size="31.5">Normal</text>
<path transform="translate(649.40,646.30) scale(0.07634)" d="M165,548 L214,503 L266,497 L257,545 C285,510 320,495 352,507 L340,555 C320,540 295,545 275,570 C262,588 255,610 250,640 L237,700 L185,700 L220,530 L175,560 Z" fill="#000" stroke="none"/>
</g>
<path d="M11,663 H155.8 L316,781.6 V782 H11Z" fill="#fffda8"/>
<g stroke="#41719c" stroke-width="1.5" fill="none">
<path d="M155.8,782 V543"/>
<path d="M0,662.9 H312"/>
<path d="M520.2,783.5 V545"/>
<path d="M364,664.2 H677"/>
</g>
<g fill="#3d6d97">
<path d="M155.8,539.6 L158.7,545 L155.8,543.8 L152.9,545Z"/>
<path d="M315.2,662.9 L309.8,665.8 L311,662.9 L309.8,660Z"/>
<path d="M520.2,541.6 L523.1,547 L520.2,545.8 L517.3,547Z"/>
<path d="M680.2,664.2 L674.8,667.1 L676,664.2 L674.8,661.3Z"/>
</g>
<path d="M155.8,560.4 V662.5 L315.2,780.6" stroke="#e03224" stroke-width="4.9" fill="none"/>
<path d="M11,662.9 H143" stroke="#000" stroke-width="5" stroke-dasharray="14.6 5.5" fill="none"/>
<circle cx="155.8" cy="662.6" r="14" fill="#f3bc40"/>
<g font-family="'Liberation Serif', serif" fill="#342cc8" stroke="#342cc8" stroke-width="0.35"><text x="60" y="740.1" font-size="31.5">FFLO</text><text x="138" y="746.8" font-size="21">h</text></g>
<path d="M375.7,664 H520.2 L680.5,783.2 V783.5 H375.7Z" fill="#b39bcc"/>
<g stroke="#4a6a9c" stroke-width="1.5" fill="none"><path d="M520.2,783.5 V664"/><path d="M375,664.2 H530"/></g>
<path d="M520.2,561.3 V664 L679.2,782.2" stroke="#e03224" stroke-width="4.9" fill="none"/>
<path d="M375.7,664.4 H520" stroke="#000" stroke-width="5" fill="none"/>
<circle cx="520.2" cy="664" r="14" fill="#8a4fd3"/>
<g font-family="'Liberation Serif', serif" fill="#342cc8" stroke="#342cc8" stroke-width="0.35"><text x="420.6" y="740.1" font-size="31.5">FFLO</text></g>
<path transform="translate(498.90,748.00) skewX(-8) scale(0.04078) translate(-193,-567)" d="M200,272 C206,222 228,184 262,183 C300,183 322,222 336,292 L374,468 C384,512 398,532 418,530 C442,527 455,505 460,480 L473,484 C470,530 446,567 408,567 C368,567 350,530 338,468 L316,352 L250,556 L193,556 L300,318 C290,262 275,222 252,222 C232,222 222,245 215,272 Z" fill="#342cc8"/>
</svg>
</body></html>
